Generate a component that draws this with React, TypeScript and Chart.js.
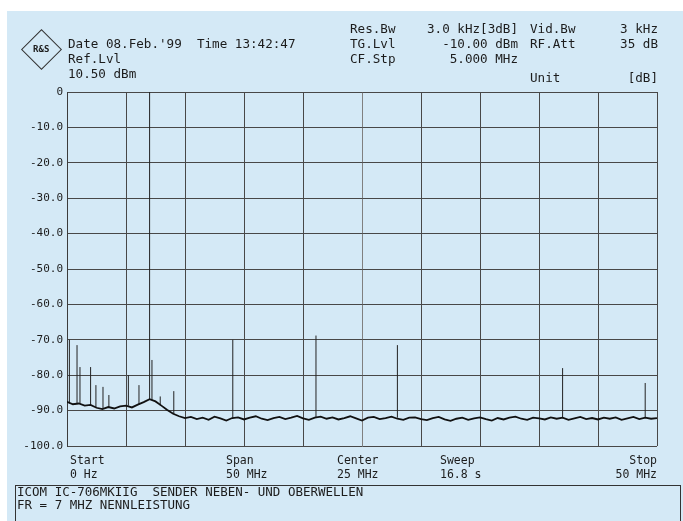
import React, { useEffect, useRef } from "react";
import { Chart, registerables } from "chart.js";

Chart.register(...registerables);

// Sweep grid of the noise floor trace (MHz)
const FLOOR_FREQ_MHZ = [
  0, 0.5, 1, 1.5, 2, 2.5, 3, 3.5, 4, 4.5, 5, 5.5, 6, 6.5, 7, 7.5, 8, 8.5, 9, 9.5, 10,
  10.5, 11, 11.5, 12, 12.5, 13, 13.5, 14, 14.5, 15,
  15.5, 16, 16.5, 17, 17.5, 18, 18.5, 19, 19.5, 20,
  20.5, 21, 21.5, 22, 22.5, 23, 23.5, 24, 24.5, 25,
  25.5, 26, 26.5, 27, 27.5, 28, 28.5, 29, 29.5, 30,
  30.5, 31, 31.5, 32, 32.5, 33, 33.5, 34, 34.5, 35,
  35.5, 36, 36.5, 37, 37.5, 38, 38.5, 39, 39.5, 40,
  40.5, 41, 41.5, 42, 42.5, 43, 43.5, 44, 44.5, 45,
  45.5, 46, 46.5, 47, 47.5, 48, 48.5, 49, 49.5, 50,
];

// Noise floor level (dB)
const FLOOR_LEVEL_DB = [
  -87.5, -88.2, -88.0, -88.6, -88.4, -89.2, -89.6, -89.0, -89.4, -88.8, -88.6,
  -89.1, -88.3, -87.6, -86.8, -87.4, -88.6, -89.8, -90.9, -91.6, -92.1,
  -91.8, -92.4, -92.0, -92.6, -91.7, -92.2, -92.8, -92.1, -91.9, -92.5,
  -92.0, -91.6, -92.3, -92.7, -92.1, -91.8, -92.4, -92.0, -91.5, -92.2,
  -92.6, -92.0, -91.7, -92.3, -91.9, -92.5, -92.1, -91.6, -92.2, -92.8,
  -92.0, -91.8, -92.4, -92.1, -91.7, -92.3, -92.6, -92.0, -91.9, -92.4,
  -92.7, -92.1, -91.8, -92.5, -92.9, -92.3, -92.0, -92.6, -92.2, -91.9,
  -92.4, -92.8, -92.1, -92.5, -92.0, -91.7, -92.3, -92.6, -92.0, -92.2,
  -92.5, -91.9, -92.3, -92.0, -92.6, -92.2, -91.8, -92.4, -92.1, -92.5,
  -92.0, -92.3, -91.9, -92.6, -92.2, -91.8, -92.4, -92.0, -92.3, -92.1,
];

// Discrete spurs / carrier / harmonics
const SPUR_FREQ_MHZ = [0.2, 0.85, 1.1, 2.0, 2.45, 3.05, 3.55, 5.2, 6.1, 7.0, 7.2, 7.9, 9.05, 14.05, 21.1, 28.0, 42.0, 49.0];
const SPUR_PEAK_DB = [-70, -71.5, -77.7, -77.7, -82.8, -83.3, -85.6, -80, -82.8, 0, -75.7, -86, -84.5, -70, -68.8, -71.5, -78, -82.2];
const SPUR_BASE_DB = [-88, -88, -88, -88.4, -89, -89.5, -89, -88.6, -88.3, -87, -87, -88.5, -90.9, -92, -92, -92, -92, -92];

const Y_MIN = -100;
const Y_MAX = 0;
const Y_STEP = 10;
const X_MIN = 0;
const X_MAX = 50;
const X_STEP = 5;

const BG = "#d4e9f6";
const INK = "#1c1c1c";
const GRID = "#484848";
const MONO = "'DejaVu Sans Mono', 'Liberation Mono', monospace";

type T = { text: string; x: number; cy: number; right?: boolean; size?: number };

const TEXTS: T[] = [
  { text: "Date 08.Feb.'99  Time 13:42:47", x: 68, cy: 44 },
  { text: "Ref.Lvl", x: 68, cy: 59 },
  { text: "10.50 dBm", x: 68, cy: 74 },
  { text: "Res.Bw", x: 350, cy: 29 },
  { text: "3.0 kHz[3dB]", x: 518, cy: 29, right: true },
  { text: "Vid.Bw", x: 530, cy: 29 },
  { text: "3 kHz", x: 658, cy: 29, right: true },
  { text: "TG.Lvl", x: 350, cy: 44 },
  { text: "-10.00 dBm", x: 518, cy: 44, right: true },
  { text: "RF.Att", x: 530, cy: 44 },
  { text: "35 dB", x: 658, cy: 44, right: true },
  { text: "CF.Stp", x: 350, cy: 59 },
  { text: "5.000 MHz", x: 518, cy: 59, right: true },
  { text: "Unit", x: 530, cy: 78 },
  { text: "[dB]", x: 658, cy: 78, right: true },
  { text: "Start", x: 70, cy: 461, size: 11.5 },
  { text: "0 Hz", x: 70, cy: 475, size: 11.5 },
  { text: "Span", x: 226, cy: 461, size: 11.5 },
  { text: "50 MHz", x: 226, cy: 475, size: 11.5 },
  { text: "Center", x: 337, cy: 461, size: 11.5 },
  { text: "25 MHz", x: 337, cy: 475, size: 11.5 },
  { text: "Sweep", x: 440, cy: 461, size: 11.5 },
  { text: "16.8 s", x: 440, cy: 475, size: 11.5 },
  { text: "Stop", x: 657, cy: 461, right: true, size: 11.5 },
  { text: "50 MHz", x: 657, cy: 475, right: true, size: 11.5 },
  { text: "ICOM IC-706MKIIG  SENDER NEBEN- UND OBERWELLEN", x: 17, cy: 492, size: 12.5 },
  { text: "FR = 7 MHZ NENNLEISTUNG", x: 17, cy: 505, size: 12.5 },
];

function Label({ t }: { t: T }) {
  const fs = t.size ?? 12.6;
  const style: React.CSSProperties = {
    position: "absolute",
    top: t.cy - fs * 0.48,
    fontFamily: MONO,
    fontSize: fs,
    lineHeight: 1,
    color: INK,
    whiteSpace: "pre",
  };
  if (t.right) style.right = 683 - t.x;
  else style.left = t.x;
  return <span style={style}>{t.text}</span>;
}

export default function App() {
  const ref = useRef<HTMLCanvasElement | null>(null);

  useEffect(() => {
    if (!ref.current) return;
    const floor = FLOOR_FREQ_MHZ.map((f, i) => ({ x: f, y: FLOOR_LEVEL_DB[i] }));
    const spurs: { x: number; y: number | null }[] = [];
    SPUR_FREQ_MHZ.forEach((f, i) => {
      spurs.push({ x: f, y: SPUR_BASE_DB[i] });
      spurs.push({ x: f, y: SPUR_PEAK_DB[i] });
      spurs.push({ x: f, y: null });
    });

    const chart = new Chart(ref.current, {
      type: "line",
      data: {
        datasets: [
          {
            data: floor,
            borderColor: "#111",
            borderWidth: 1.8,
            pointRadius: 0,
            tension: 0,
          },
          {
            data: spurs as any,
            borderColor: "#222",
            borderWidth: 1,
            pointRadius: 0,
            spanGaps: false,
          },
        ],
      },
      options: {
        animation: false,
        responsive: false,
        devicePixelRatio: 1,
        events: [],
        layout: { padding: { left: 0, top: 92, right: 26, bottom: 75 } },
        plugins: { legend: { display: false }, tooltip: { enabled: false }, title: { display: false } },
        scales: {
          x: {
            type: "linear",
            min: X_MIN,
            max: X_MAX,
            ticks: { display: false, stepSize: X_STEP },
            grid: {
              drawTicks: false,
              lineWidth: 1,
              color: (ctx: any) => (ctx.tick && ctx.tick.value === 25 ? "#808080" : GRID),
              dash: (ctx: any) => (ctx.tick && ctx.tick.value === 25 ? [2, 3] : []),
              borderDash: (ctx: any) => (ctx.tick && ctx.tick.value === 25 ? [2, 3] : []),
            } as any,
            border: { display: false },
            afterFit: (s: any) => {
              s.height = 0;
            },
          },
          y: {
            type: "linear",
            min: Y_MIN,
            max: Y_MAX,
            ticks: {
              stepSize: Y_STEP,
              padding: 4,
              color: INK,
              font: { family: MONO, size: 11 },
              callback: (v: any) => (Number(v) === 0 ? "0" : Number(v).toFixed(1)),
            },
            grid: { drawTicks: false, color: GRID, lineWidth: 1 },
            border: { display: true, color: "#3c3c3c", width: 1 },
            afterFit: (s: any) => {
              s.width = 67;
            },
          },
        },
      },
    });
    return () => chart.destroy();
  }, []);

  return (
    <div style={{ position: "absolute", left: 0, top: 0, width: 683, height: 521, overflow: "hidden", background: "#fff" }}>
      <div style={{ position: "absolute", left: 7, top: 11, width: 676, height: 510, background: BG }} />
      <canvas ref={ref} width={683} height={521} style={{ position: "absolute", left: 0, top: 0, width: 683, height: 521 }} />
      <div
        style={{
          position: "absolute",
          left: 27,
          top: 35,
          width: 27,
          height: 27,
          border: "1.5px solid #333",
          transform: "rotate(45deg)",
          display: "flex",
          alignItems: "center",
          justifyContent: "center",
        }}
      >
        <span style={{ transform: "rotate(-45deg)", fontFamily: MONO, fontSize: 9, fontWeight: "bold", color: INK, lineHeight: 1, textAlign: "center" }}>
          R&amp;S
        </span>
      </div>
      {TEXTS.map((t, i) => (
        <Label key={i} t={t} />
      ))}
      <div style={{ position: "absolute", left: 15, top: 485, width: 664, height: 40, border: "1px solid #333" }} />
    </div>
  );
}
